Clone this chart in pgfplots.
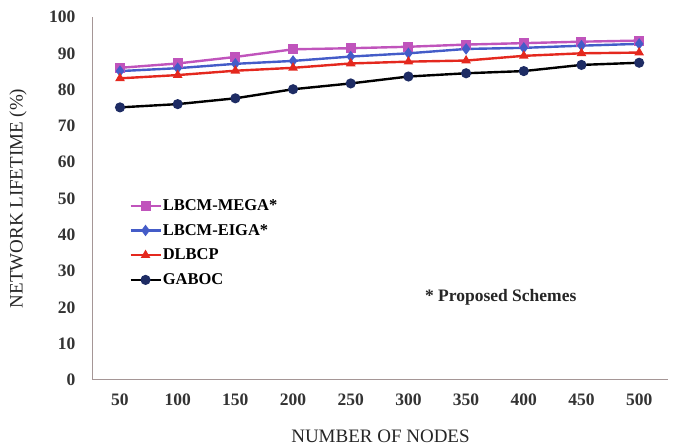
\documentclass[border=0pt]{standalone}
\usepackage{pgfplots}
\pgfplotsset{compat=1.18}
\usepackage{fontspec}
\setmainfont{Liberation Serif}
\definecolor{cmag}{RGB}{192,84,188}
\definecolor{cblue}{RGB}{68,92,200}
\definecolor{cred}{RGB}{228,40,30}
\definecolor{cnavy}{RGB}{30,44,100}
\definecolor{caxis}{RGB}{165,150,150}
\begin{document}
\begin{tikzpicture}
\begin{axis}[
  scale only axis,
  width=575pt, height=363pt,
  xmin=26.6, xmax=525, ymin=0, ymax=100,
  axis x line*=bottom, axis y line*=left,
  axis line style={caxis, line width=1pt, -},
  xtick={50,100,...,500}, ytick={0,10,...,100},
  major tick length=0pt,
  /pgf/number format/assume math mode=true,
  ticklabel style={font=\fontsize{17.5}{19}\selectfont\bfseries, text=black!80},
  yticklabel style={anchor=east, xshift=-14pt},
  xticklabel style={anchor=center, yshift=-20pt},
  xlabel={NUMBER OF NODES},
  ylabel={NETWORK LIFETIME (\%)},
  label style={font=\fontsize{19}{21}\selectfont, text=black!85},
  xlabel style={at={(axis description cs:0.5,0)}, anchor=center, yshift=-56pt},
  ylabel style={at={(axis description cs:0,0.5)}, anchor=center, yshift=75pt},
  legend style={draw=none, fill=none, at={(0.058,0.506)}, anchor=north west,
    font=\fontsize{16.5}{18}\selectfont\bfseries, row sep=10.3pt,
    legend cell align=left},
  legend image code/.code={\draw[#1] (0cm,0cm) -- (1.05cm,0cm); \draw[#1, only marks] plot coordinates {(0.52cm,0cm)};},
  legend style={nodes={inner xsep=1pt, inner ysep=1pt}},
]
\addplot[cmag, line width=2.4pt, mark=square*, mark size=3.8pt] coordinates {
(50,86.0) (100,87.2) (150,89.0) (200,91.1) (250,91.4) (300,91.8) (350,92.4) (400,92.8) (450,93.2) (500,93.5)};
\addlegendentry{LBCM-MEGA*}
\addplot[cblue, line width=2.4pt, mark=diamond*, mark size=3.8pt] coordinates {
(50,85.1) (100,85.9) (150,87.1) (200,87.9) (250,89.1) (300,90.0) (350,91.2) (400,91.5) (450,92.1) (500,92.6)};
\addlegendentry{LBCM-EIGA*}
\addplot[cred, line width=2.4pt, mark=triangle*, mark size=3.2pt] coordinates {
(50,83.1) (100,84.0) (150,85.2) (200,86.0) (250,87.2) (300,87.7) (350,88.0) (400,89.3) (450,90.0) (500,90.2)};
\addlegendentry{DLBCP}
\addplot[black, line width=2.4pt, mark=*, mark size=3.8pt, mark options={fill=cnavy, draw=cnavy}] coordinates {
(50,75.1) (100,76.0) (150,77.6) (200,80.1) (250,81.7) (300,83.6) (350,84.5) (400,85.1) (450,86.8) (500,87.4)};
\addlegendentry{GABOC}
\node[font=\fontsize{17.5}{19}\selectfont\bfseries, text=black!85] at (axis cs:380,22.8) {* Proposed Schemes};
\end{axis}
\path ([xshift=-93pt,yshift=-63pt]current axis.south west) rectangle ([xshift=15pt,yshift=17pt]current axis.north east);
\end{tikzpicture}
\end{document}
